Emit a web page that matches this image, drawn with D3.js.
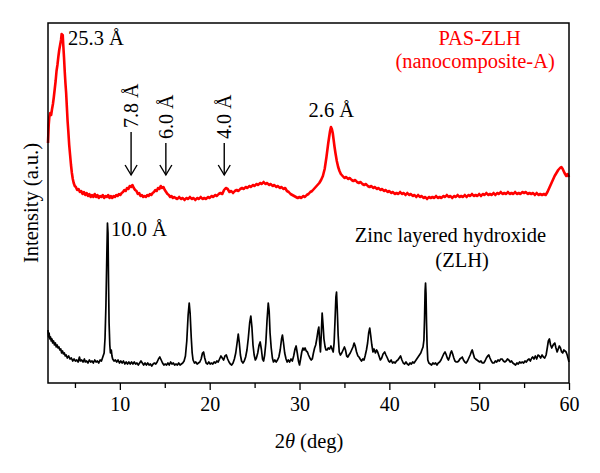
<!DOCTYPE html>
<html>
<head>
<meta charset="utf-8">
<script src="https://cdn.jsdelivr.net/npm/d3@7"></script>
<style>
  body { margin: 0; background: #fff; }
  text { font-family: "Liberation Serif", "DejaVu Serif", serif; }
</style>
</head>
<body>
<div id="chart"></div>
<script>
// SVG dims
var width = 600;
var height = 473;
var margin = { left: 48, right: 31, top: 23, bottom: 90 };

// x ticks (2 theta, deg)
var majorTicks = [10, 20, 30, 40, 50, 60];
var minorTicks = [5, 15, 25, 35, 45, 55];

// PAS-ZLH (nanocomposite-A) pattern: [2theta, intensity a.u.]
var nanoPattern = [
  [2.00,240],[2.08,258],[2.15,266],[2.25,270],[2.35,268],[2.45,274],[2.55,279],[2.65,286],[2.75,294],[2.85,302],
  [2.95,312],[3.05,318],[3.15,326],[3.25,333],[3.35,338],[3.45,343],[3.52,349],[3.58,346],[3.64,348],[3.70,338],
  [3.78,326],[3.86,312],[3.94,300],[4.02,290],[4.10,276],[4.18,262],[4.26,252],[4.36,238],[4.46,228],[4.56,218],
  [4.66,210],[4.76,204],[4.86,200],[4.98,197],[5.10,196],[5.25,193],[5.40,194],[5.55,191],[5.70,192],[5.85,189],
  [6.00,191],[6.15,188],[6.30,190],[6.45,187],[6.60,189],[6.75,186],[6.90,188],[7.05,186],[7.20,189],[7.35,186],
  [7.50,188],[7.65,185],[7.80,187],[7.95,186],[8.10,188],[8.25,185],[8.40,187],[8.55,186],[8.70,188],[8.85,185],
  [9.00,187],[9.15,185],[9.30,187],[9.45,186],[9.60,188],[9.75,187],[9.90,189],[10.05,188],[10.20,190],[10.35,191],
  [10.50,193],[10.65,192],[10.80,195],[10.95,194],[11.10,197],[11.25,196],[11.40,198],[11.55,195],[11.70,193],[11.85,192],
  [12.00,189],[12.15,190],[12.30,187],[12.45,188],[12.60,186],[12.75,187],[12.90,186],[13.05,188],[13.20,187],[13.35,189],
  [13.50,188],[13.65,190],[13.80,191],[13.95,193],[14.10,192],[14.25,195],[14.40,194],[14.55,197],[14.70,195],[14.85,196],
  [15.00,193],[15.15,191],[15.30,189],[15.45,188],[15.60,186],[15.75,187],[15.90,185],[16.05,186],[16.20,185],[16.40,184],
  [16.60,186],[16.80,184],[17.00,185],[17.20,183],[17.40,185],[17.60,184],[17.80,186],[18.00,184],[18.20,185],[18.40,183],
  [18.60,185],[18.80,184],[19.00,186],[19.20,184],[19.40,185],[19.60,184],[19.80,186],[20.00,185],[20.20,187],[20.40,186],
  [20.60,188],[20.80,187],[21.00,189],[21.20,190],[21.40,189],[21.60,193],[21.80,195],[22.00,194],[22.20,191],[22.40,192],
  [22.60,190],[22.80,192],[23.00,193],[23.20,192],[23.40,194],[23.60,195],[23.80,194],[24.00,196],[24.20,195],[24.40,197],
  [24.60,196],[24.80,198],[25.00,197],[25.20,199],[25.40,198],[25.60,200],[25.80,199],[26.00,201],[26.20,199],[26.40,200],
  [26.60,198],[26.80,199],[27.00,197],[27.20,198],[27.40,196],[27.60,197],[27.80,195],[28.00,196],[28.20,194],[28.40,195],
  [28.60,192],[28.80,191],[29.00,189],[29.20,188],[29.40,187],[29.60,186],[29.80,185],[30.00,186],[30.20,185],[30.40,187],
  [30.60,186],[30.80,188],[31.00,189],[31.20,191],[31.40,192],[31.60,194],[31.80,196],[32.00,198],[32.20,200],[32.40,203],
  [32.60,207],[32.80,214],[33.00,226],[33.20,240],[33.40,252],[33.50,256],[33.60,254],[33.70,250],[33.80,243],[33.90,236],
  [34.00,230],[34.15,222],[34.30,216],[34.45,212],[34.60,209],[34.80,207],[35.00,205],[35.20,206],[35.40,204],[35.60,205],
  [35.80,203],[36.00,202],[36.20,203],[36.40,201],[36.60,200],[36.80,201],[37.00,199],[37.20,198],[37.40,199],[37.60,197],
  [37.80,196],[38.00,197],[38.20,195],[38.40,196],[38.60,194],[38.80,195],[39.00,193],[39.20,194],[39.40,192],[39.60,193],
  [39.80,191],[40.00,192],[40.20,190],[40.40,191],[40.60,189],[40.80,190],[41.00,189],[41.20,191],[41.40,189],[41.60,190],
  [41.80,188],[42.00,190],[42.20,188],[42.40,189],[42.60,187],[42.80,188],[43.00,186],[43.20,188],[43.40,186],[43.60,187],
  [43.80,185],[44.00,186],[44.20,184],[44.40,186],[44.60,185],[44.80,186],[45.00,185],[45.20,187],[45.40,185],[45.60,186],
  [45.80,185],[46.00,187],[46.20,186],[46.40,188],[46.60,186],[46.80,187],[47.00,185],[47.20,187],[47.40,186],[47.60,188],
  [47.80,186],[48.00,187],[48.20,186],[48.40,188],[48.60,186],[48.80,188],[49.00,187],[49.20,189],[49.40,187],[49.60,188],
  [49.80,187],[50.00,189],[50.20,187],[50.40,189],[50.60,188],[50.80,190],[51.00,188],[51.20,189],[51.40,188],[51.60,190],
  [51.80,188],[52.00,190],[52.20,189],[52.40,191],[52.60,189],[52.80,190],[53.00,189],[53.20,191],[53.40,189],[53.60,190],
  [53.80,189],[54.00,191],[54.20,189],[54.40,190],[54.60,189],[54.80,191],[55.00,190],[55.20,191],[55.40,189],[55.60,190],
  [55.80,189],[56.00,190],[56.20,188],[56.40,190],[56.60,188],[56.80,189],[57.00,188],[57.20,189],[57.40,188],[57.60,191],
  [57.80,195],[58.00,199],[58.20,203],[58.40,207],[58.60,210],[58.80,213],[59.00,215],[59.15,216],[59.30,214],[59.50,210],
  [59.70,207],[59.85,209],[60.00,206]
];

// Zinc layered hydroxide (ZLH) pattern: [2theta, intensity a.u.]
var zlhPattern = [
  [2.00,53],[2.06,46],[2.12,50],[2.20,44],[2.28,46],[2.36,42],[2.44,44],[2.52,40],[2.62,42],[2.72,38],
  [2.82,40],[2.92,36],[3.02,38],[3.12,35],[3.22,36],[3.32,33],[3.42,34],[3.52,30],[3.62,32],[3.72,29],
  [3.82,30],[3.92,27],[4.02,28],[4.15,25],[4.30,27],[4.45,24],[4.60,25],[4.75,22],[4.90,24],[5.05,22],
  [5.20,23],[5.35,21],[5.50,26],[5.60,22],[5.75,23],[5.90,21],[6.05,24],[6.15,21],[6.30,22],[6.45,20],
  [6.60,23],[6.75,21],[6.90,22],[7.05,20],[7.20,23],[7.35,21],[7.50,22],[7.65,20],[7.80,23],[7.95,22],
  [8.10,26],[8.25,30],[8.35,45],[8.45,78],[8.55,128],[8.62,160],[8.68,150],[8.74,100],[8.80,60],[8.88,38],
  [8.95,30],[9.05,33],[9.12,27],[9.20,24],[9.35,22],[9.50,23],[9.65,21],[9.80,23],[9.95,20],[10.10,22],
  [10.25,20],[10.40,22],[10.55,19],[10.70,21],[10.85,19],[11.00,21],[11.15,19],[11.30,21],[11.45,19],[11.60,21],
  [11.75,19],[11.90,20],[12.05,18],[12.20,20],[12.35,22],[12.50,20],[12.65,18],[12.80,20],[12.95,18],[13.10,20],
  [13.25,18],[13.40,19],[13.55,17],[13.70,19],[13.85,20],[14.00,19],[14.15,21],[14.30,24],[14.45,26],[14.60,23],
  [14.75,20],[14.90,18],[15.05,19],[15.20,18],[15.35,20],[15.50,18],[15.65,21],[15.80,19],[15.95,20],[16.10,18],
  [16.25,19],[16.40,18],[16.55,20],[16.70,18],[16.85,19],[17.00,20],[17.15,22],[17.30,27],[17.45,42],[17.60,68],
  [17.72,80],[17.82,70],[17.95,45],[18.05,30],[18.15,23],[18.30,20],[18.45,21],[18.60,19],[18.75,20],[18.90,21],
  [19.05,24],[19.20,30],[19.32,31],[19.45,25],[19.60,20],[19.75,19],[19.90,21],[20.05,19],[20.20,20],[20.35,19],
  [20.50,21],[20.65,20],[20.80,22],[20.95,21],[21.10,24],[21.25,27],[21.40,25],[21.55,23],[21.70,27],[21.85,28],
  [22.00,24],[22.15,21],[22.30,19],[22.45,18],[22.60,20],[22.75,24],[22.90,30],[23.05,40],[23.18,49],[23.30,40],
  [23.42,28],[23.55,22],[23.70,20],[23.85,22],[24.00,26],[24.15,33],[24.30,45],[24.45,60],[24.58,67],[24.70,56],
  [24.82,38],[24.95,28],[25.08,23],[25.20,25],[25.35,30],[25.50,38],[25.62,41],[25.75,34],[25.88,24],[26.00,22],
  [26.12,28],[26.25,40],[26.38,62],[26.52,80],[26.62,72],[26.72,50],[26.85,35],[26.98,25],[27.10,21],[27.25,23],
  [27.40,21],[27.55,23],[27.70,26],[27.85,33],[28.00,44],[28.10,48],[28.22,40],[28.35,30],[28.50,24],[28.62,21],
  [28.75,23],[28.90,21],[29.05,24],[29.20,22],[29.35,27],[29.50,34],[29.62,37],[29.75,30],[29.88,22],[30.00,18],
  [30.12,24],[30.25,31],[30.38,35],[30.50,33],[30.62,35],[30.75,32],[30.88,31],[31.00,28],[31.15,25],[31.30,23],
  [31.42,24],[31.55,30],[31.68,35],[31.80,38],[31.92,44],[32.05,52],[32.15,56],[32.25,40],[32.33,31],[32.42,48],
  [32.52,70],[32.62,58],[32.72,44],[32.85,36],[32.95,33],[33.07,33],[33.20,35],[33.35,34],[33.50,37],[33.62,34],
  [33.75,31],[33.85,40],[33.95,62],[34.05,86],[34.12,91],[34.20,74],[34.30,48],[34.42,31],[34.55,28],[34.70,30],
  [34.85,33],[35.00,36],[35.12,33],[35.25,27],[35.38,26],[35.50,28],[35.65,30],[35.80,33],[35.95,36],[36.08,40],
  [36.20,37],[36.35,31],[36.50,27],[36.62,26],[36.75,24],[36.90,22],[37.05,24],[37.18,23],[37.30,27],[37.45,33],
  [37.58,40],[37.70,50],[37.82,55],[37.92,48],[38.05,38],[38.18,31],[38.30,34],[38.45,30],[38.58,33],[38.70,31],
  [38.85,27],[39.00,23],[39.15,25],[39.30,29],[39.48,31],[39.62,28],[39.78,25],[39.92,22],[40.05,21],[40.20,23],
  [40.35,20],[40.50,21],[40.65,20],[40.80,22],[40.95,23],[41.10,25],[41.25,27],[41.40,23],[41.55,20],[41.70,19],
  [41.85,21],[42.00,19],[42.15,18],[42.30,20],[42.45,19],[42.60,21],[42.75,20],[42.90,22],[43.05,24],[43.20,26],
  [43.35,28],[43.50,30],[43.62,33],[43.75,36],[43.85,43],[43.92,65],[43.98,92],[44.03,100],[44.08,90],[44.14,60],
  [44.20,38],[44.28,23],[44.40,20],[44.55,19],[44.70,18],[44.85,20],[45.00,19],[45.15,20],[45.30,18],[45.45,20],
  [45.60,21],[45.75,23],[45.90,26],[46.05,29],[46.20,31],[46.30,29],[46.45,25],[46.58,23],[46.70,26],[46.82,30],
  [46.93,32],[47.05,29],[47.18,25],[47.30,22],[47.45,21],[47.58,21],[47.72,22],[47.85,24],[48.00,25],[48.12,26],
  [48.25,23],[48.40,21],[48.55,20],[48.70,22],[48.85,25],[49.00,28],[49.12,31],[49.23,33],[49.35,29],[49.48,25],
  [49.60,24],[49.75,23],[49.90,22],[50.05,21],[50.20,22],[50.35,20],[50.50,20],[50.65,22],[50.80,25],[50.95,27],
  [51.08,28],[51.20,25],[51.35,22],[51.50,20],[51.65,20],[51.80,22],[51.95,21],[52.10,23],[52.25,22],[52.40,24],
  [52.55,24],[52.70,22],[52.85,21],[53.00,22],[53.15,24],[53.30,23],[53.45,21],[53.60,22],[53.75,20],[53.90,19],
  [54.05,18],[54.20,20],[54.35,19],[54.50,21],[54.65,20],[54.80,21],[54.95,20],[55.10,22],[55.25,21],[55.40,23],
  [55.55,24],[55.70,22],[55.85,25],[55.95,26],[56.10,24],[56.25,27],[56.40,24],[56.55,28],[56.70,27],[56.85,25],
  [57.00,28],[57.15,26],[57.30,25],[57.45,28],[57.58,35],[57.70,42],[57.82,44],[57.95,38],[58.08,35],[58.18,37],
  [58.30,39],[58.42,40],[58.55,35],[58.68,31],[58.80,34],[58.92,37],[59.05,35],[59.18,31],[59.30,30],[59.42,33],
  [59.55,32],[59.68,31],[59.80,28],[59.92,24],[60.00,21]
];

// Text labels placed in data coords: [2theta, intensity, text, anchor, colour]
var peakLabels = [
  [4.23, 338, "25.3 Å", "start", "#000"],
  [9.02, 147, "10.0 Å", "start", "#000"],
  [33.55, 266, "2.6 Å", "middle", "#000"],
  [50.05, 338, "PAS-ZLH", "middle", "#ff0000"],
  [49.55, 315, "(nanocomposite-A)", "middle", "#ff0000"],
  [46.8, 141, "Zinc layered hydroxide", "middle", "#000"],
  [48.1, 116, "(ZLH)", "middle", "#000"]
];

// Arrow marks on the nanocomposite: [2theta of arrow, top, tip, label]
var arrowMarks = [
  [11.25, 251, 208, "7.8 Å"],
  [15.12, 240, 208, "6.0 Å"],
  [21.62, 240, 208, "4.0 Å"]
];

var svg = d3.select("#chart").append("svg")
    .attr("width", width)
    .attr("height", height);

// Scales
var xScale = d3.scaleLinear()
    .domain([2, 60])
    .range([margin.left, width - margin.right]);

var yScale = d3.scaleLinear()
    .domain([0, 360])
    .range([height - margin.bottom, margin.top]);

var line = d3.line()
    .x(function(d) { return xScale(d[0]); })
    .y(function(d) { return yScale(d[1]); });

// Patterns
svg.append("path")
    .datum(zlhPattern)
    .attr("d", line)
    .attr("fill", "none")
    .attr("stroke", "#000")
    .attr("stroke-width", 1.7)
    .attr("stroke-linejoin", "round");

svg.append("path")
    .datum(nanoPattern)
    .attr("d", line)
    .attr("fill", "none")
    .attr("stroke", "#ff0000")
    .attr("stroke-width", 2.6)
    .attr("stroke-linejoin", "round");

// Frame
svg.append("rect")
    .attr("x", xScale(2))
    .attr("y", yScale(360))
    .attr("width", xScale(60) - xScale(2))
    .attr("height", yScale(0) - yScale(360))
    .attr("fill", "none")
    .attr("stroke", "#000")
    .attr("stroke-width", 1.5);

// Bottom axis
var xAxis = d3.axisBottom(xScale)
    .tickValues(majorTicks)
    .tickSize(7)
    .tickPadding(7);

var gx = svg.append("g")
    .attr("transform", "translate(0," + yScale(0) + ")")
    .call(xAxis);
gx.select(".domain").remove();
gx.selectAll("line").attr("stroke-width", 1.3);
gx.selectAll("text")
    .attr("font-family", "Liberation Serif")
    .attr("font-size", 20)
    .attr("fill", "#000");

var gMinor = svg.append("g")
    .attr("transform", "translate(0," + yScale(0) + ")")
    .call(d3.axisBottom(xScale).tickValues(minorTicks).tickSize(5).tickFormat(""));
gMinor.select(".domain").remove();
gMinor.selectAll("line").attr("stroke-width", 1.3);

// Axis titles
var xTitle = svg.append("text")
    .attr("x", 309)
    .attr("y", 448)
    .attr("text-anchor", "middle")
    .attr("font-size", 20.5);
xTitle.append("tspan").text("2");
xTitle.append("tspan").attr("font-style", "italic").text("θ");
xTitle.append("tspan").text(" (deg)");

svg.append("text")
    .attr("transform", "translate(38,203) rotate(-90)")
    .attr("text-anchor", "middle")
    .attr("font-size", 20.5)
    .text("Intensity (a.u.)");

// Peak and legend labels
svg.selectAll(".peak-label")
    .data(peakLabels).enter()
    .append("text")
    .attr("class", "peak-label")
    .attr("x", function(d) { return xScale(d[0]); })
    .attr("y", function(d) { return yScale(d[1]); })
    .attr("text-anchor", function(d) { return d[3]; })
    .attr("fill", function(d) { return d[4]; })
    .attr("font-size", 20.5)
    .text(function(d) { return d[2]; });

// Arrows with rotated d-spacing labels
var marks = svg.selectAll(".arrow")
    .data(arrowMarks).enter()
    .append("g")
    .attr("class", "arrow");

marks.append("line")
    .attr("x1", function(d) { return xScale(d[0]); })
    .attr("x2", function(d) { return xScale(d[0]); })
    .attr("y1", function(d) { return yScale(d[1]); })
    .attr("y2", function(d) { return yScale(d[2]); })
    .attr("stroke", "#000")
    .attr("stroke-width", 1.4);

marks.append("path")
    .attr("d", function(d) {
        var x = xScale(d[0]), y = yScale(d[2]);
        return "M" + (x - 6) + "," + (y - 10) + "L" + x + "," + y + "L" + (x + 6) + "," + (y - 10);
    })
    .attr("fill", "none")
    .attr("stroke", "#000")
    .attr("stroke-width", 1.4);

marks.append("text")
    .attr("transform", function(d) {
        return "translate(" + (xScale(d[0]) + 7) + "," + (yScale(d[1]) - 4) + ") rotate(-90)";
    })
    .attr("font-size", 20)
    .text(function(d) { return d[3]; });
</script>
</body>
</html>
